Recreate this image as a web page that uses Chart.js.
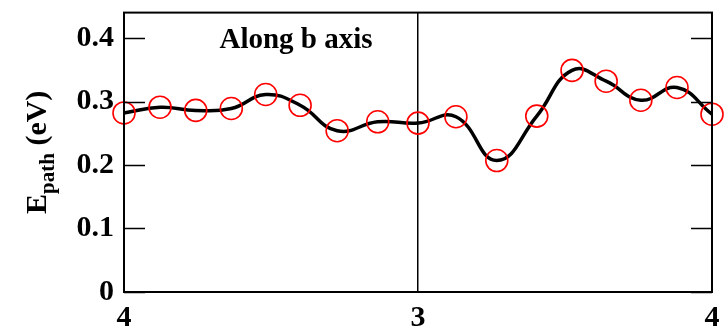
<!DOCTYPE html>
<html>
<head>
<meta charset="utf-8">
<script src="https://cdn.jsdelivr.net/npm/chart.js@4"></script>
<style>
  html, body { margin: 0; padding: 0; background: #fff; }
  #wrap { width: 727px; height: 328px; }
</style>
</head>
<body>
<div id="wrap"><canvas id="chart"></canvas></div>
<script>
// path coordinate: 0 = site 4, 1 = site 3, 2 = site 4
const pathPos = [0, 0.1225, 0.244, 0.365, 0.482, 0.599, 0.725, 0.863, 1.0,
                 1.129, 1.268, 1.404, 1.524, 1.640, 1.758, 1.881, 2.0];
const energies = [0.282, 0.291, 0.286, 0.289, 0.311, 0.294, 0.254, 0.268, 0.266,
                  0.276, 0.207, 0.277, 0.349, 0.332, 0.302, 0.322, 0.280];
const siteLabels = ['4', '3', '4'];
const yTicks = [0, 0.1, 0.2, 0.3, 0.4];

const serif = '"Liberation Serif", "DejaVu Serif", serif';

// frame, inner y ticks, annotation and axis title
const decor = {
  id: 'decor',
  afterDatasetsDraw(chart) {
    const { ctx, chartArea: a, scales: { y } } = chart;
    ctx.save();
    ctx.strokeStyle = '#000';
    ctx.lineWidth = 2;
    ctx.strokeRect(a.left, a.top, a.right - a.left, a.bottom - a.top);

    ctx.lineWidth = 1.5;
    yTicks.forEach(v => {
      const py = Math.round(y.getPixelForValue(v)) + 0.5;
      ctx.beginPath();
      ctx.moveTo(a.left, py); ctx.lineTo(a.left + 21, py);
      ctx.moveTo(a.right, py); ctx.lineTo(a.right - 21, py);
      ctx.stroke();
    });

    ctx.fillStyle = '#000';
    ctx.font = 'bold 29px ' + serif;
    ctx.textAlign = 'center';
    ctx.textBaseline = 'alphabetic';
    ctx.fillText('Along b axis', 296, 48);

    // E_path (eV) rotated
    ctx.translate(46, (a.top + a.bottom) / 2);
    ctx.rotate(-Math.PI / 2);
    const big = 'bold 30px ' + serif, small = 'bold 21px ' + serif;
    ctx.font = big; const wE = ctx.measureText('E').width;
    ctx.font = small; const wP = ctx.measureText('path').width;
    ctx.font = big; const wU = ctx.measureText(' (eV)').width;
    let x0 = -(wE + wP + wU) / 2;
    ctx.textAlign = 'left';
    ctx.font = big; ctx.fillText('E', x0, 0);
    ctx.font = small; ctx.fillText('path', x0 + wE, 8);
    ctx.font = big; ctx.fillText(' (eV)', x0 + wE + wP, 0);
    ctx.restore();
  }
};

new Chart(document.getElementById('chart'), {
  type: 'line',
  data: {
    datasets: [{
      data: pathPos.map((x, i) => ({ x: x, y: energies[i] })),
      borderColor: '#000',
      borderWidth: 3.5,
      tension: 0.45,
      fill: false,
      clip: false,
      pointRadius: 11,
      pointBorderWidth: 1.6,
      pointBorderColor: '#ff0000',
      pointBackgroundColor: 'rgba(0,0,0,0)'
    }]
  },
  options: {
    responsive: true,
    maintainAspectRatio: false,
    animation: false,
    events: [],
    layout: { padding: { top: 8, right: 15, left: 0, bottom: 0 } },
    plugins: { legend: { display: false }, tooltip: { enabled: false } },
    scales: {
      x: {
        type: 'linear',
        min: 0, max: 2,
        afterBuildTicks: s => { s.ticks = [0, 1, 2].map(v => ({ value: v })); },
        ticks: {
          color: '#000',
          padding: 8,
          maxRotation: 0,
          font: { family: serif, size: 30, weight: 'bold' },
          callback: (v) => siteLabels[v]
        },
        grid: {
          drawTicks: false,
          color: c => (c.tick && c.tick.value === 1) ? '#000' : 'rgba(0,0,0,0)',
          lineWidth: 1.5
        },
        border: { display: false },
        afterFit: s => { s.height = 36; s.paddingLeft = 0; s.paddingRight = 0; }
      },
      y: {
        min: 0, max: 0.44,
        afterBuildTicks: s => { s.ticks = yTicks.map(v => ({ value: v })); },
        ticks: {
          color: '#000',
          padding: 10,
          font: { family: serif, size: 30, weight: 'bold' },
          callback: v => String(Math.round(v * 10) / 10)
        },
        grid: { display: false, drawTicks: false },
        border: { display: false },
        afterFit: s => { s.width = 124; s.paddingTop = 0; s.paddingBottom = 0; }
      }
    }
  },
  plugins: [decor]
});
</script>
</body>
</html>
